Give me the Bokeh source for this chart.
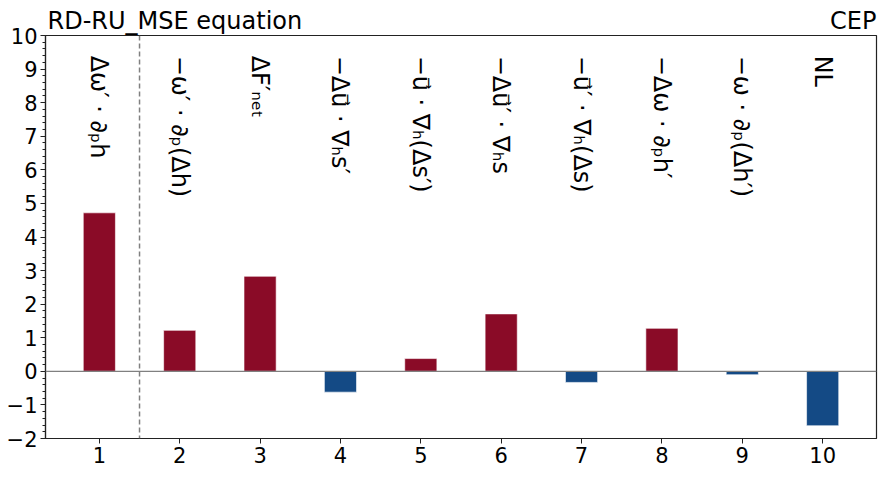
import numpy as np
from bokeh.plotting import figure
from bokeh.models import Range1d, FixedTicker, Span, LinearAxis, ColumnDataSource
from bokeh.core.properties import value
from bokeh.embed import file_html
from bokeh.resources import INLINE

# ---- data ----
categories = [1, 2, 3, 4, 5, 6, 7, 8, 9, 10]
values = [4.72, 1.22, 2.83, -0.62, 0.38, 1.71, -0.33, 1.28, -0.10, -1.62]
term_labels = [
    "Δω′ · ∂ₚh",
    "−ω′ · ∂ₚ(Δh)",
    "ΔF′ₙₑₜ",
    "−Δu⃗ · ∇ₕs′",
    "−u⃗ · ∇ₕ(Δs′)",
    "−Δu⃗′ · ∇ₕs",
    "−u⃗′ · ∇ₕ(Δs)",
    "−Δω · ∂ₚh′",
    "−ω · ∂ₚ(Δh′)",
    "NL",
]
title_left = "RD-RU_MSE equation"
title_right = "CEP"
y_ticks = [-2, -1, 0, 1, 2, 3, 4, 5, 6, 7, 8, 9, 10]

RED = "#8a0b27"
BLUE = "#144a85"
FONT = "DejaVu Sans"

colors = [RED if v > 0 else BLUE for v in values]
src = ColumnDataSource(dict(x=categories, v=values, color=colors, label=term_labels))

p = figure(width=888, height=480, output_backend="svg", toolbar_location=None,
           x_range=Range1d(0.33, 10.67), y_range=Range1d(-2, 10),
           min_border_left=45, min_border_right=12, min_border_top=35, min_border_bottom=42)

p.xgrid.visible = False
p.ygrid.visible = False
p.outline_line_color = "#222222"
p.outline_line_width = 1.2
p.outline_line_alpha = 1.0

p.vbar(x="x", top="v", bottom=0, width=0.4, fill_color="color",
       line_color="white", line_width=0.6, source=src)

p.add_layout(Span(location=0, dimension="width", line_color="#808080", line_width=1.2))
p.add_layout(Span(location=1.5, dimension="height", line_color="#808080",
                  line_width=1.5, line_dash="5 3"))

p.text(x="x", y=9.4, text="label", angle=-np.pi / 2, text_align="left",
       text_baseline="middle", text_font=value(FONT), text_font_size="24px",
       text_color="black", source=src)

# header texts (left and right titles) drawn as labels of a bare top axis
title_pos = [1.94, 10.38]
top = LinearAxis(ticker=FixedTicker(ticks=title_pos),
                 major_label_overrides={title_pos[0]: title_left, title_pos[1]: title_right})
top.axis_line_color = None
top.major_tick_line_color = None
top.minor_tick_line_color = None
top.major_tick_out = 0
top.major_tick_in = 0
top.major_label_standoff = 1
top.major_label_text_font = FONT
top.major_label_text_font_size = "24px"
top.major_label_text_color = "black"
p.add_layout(top, "above")

minor = [t for t in np.round(np.arange(-2, 10.001, 0.2), 2) if abs(t - round(t)) > 1e-6]
p.yaxis.ticker = FixedTicker(ticks=y_ticks, minor_ticks=list(minor))
p.below[0].ticker = FixedTicker(ticks=categories)
p.yaxis.major_label_overrides = {-1: "−1", -2: "−2"}

for ax in (p.below[0], p.yaxis[0]):
    ax.axis_line_color = "#222222"
    ax.axis_line_width = 1.2
    ax.major_tick_line_color = "#222222"
    ax.minor_tick_line_color = "#222222"
    ax.major_tick_in = 0
    ax.major_tick_out = 5
    ax.minor_tick_in = 0
    ax.minor_tick_out = 3
    ax.major_label_text_font = FONT
    ax.major_label_text_font_size = "21px"
    ax.major_label_text_color = "black"
    ax.major_label_standoff = 3
p.below[0].minor_tick_line_color = None

open("out.html", "w").write(file_html(p, INLINE))
